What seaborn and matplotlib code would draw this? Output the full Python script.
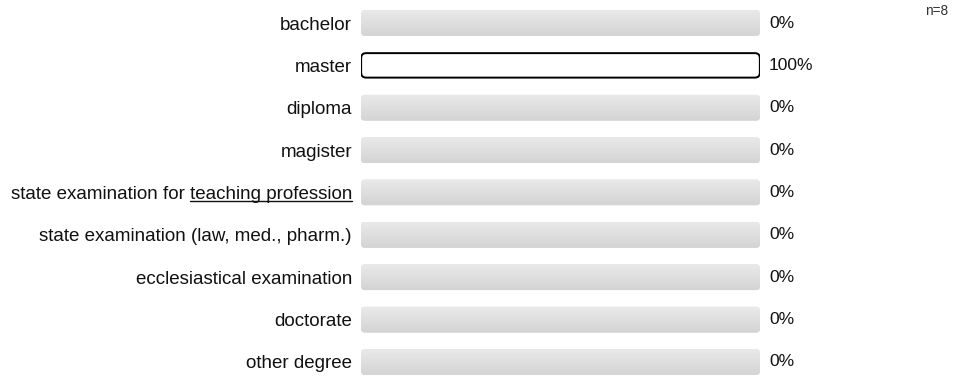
import matplotlib
matplotlib.use("Agg")
import matplotlib.pyplot as plt
import seaborn as sns
import numpy as np
import pandas as pd
from matplotlib.patches import FancyBboxPatch
from matplotlib.lines import Line2D

categories = [
    "bachelor",
    "master",
    "diploma",
    "magister",
    "state examination for teaching profession",
    "state examination (law, med., pharm.)",
    "ecclesiastical examination",
    "doctorate",
    "other degree",
]
underlined_part = "teaching profession"
values = [0, 100, 0, 0, 0, 0, 0, 0, 0]
track = [100] * len(categories)
n_total = 8

sns.set_theme(style="white")
plt.rcParams["font.family"] = ["Liberation Sans", "DejaVu Sans"]

LABEL_FS = 13.5
VALUE_FS = 12.5

W, H = 980, 381
fig = plt.figure(figsize=(W / 100, H / 100), dpi=100)
ax_left, ax_right = 361, 760
ax = fig.add_axes([ax_left / W, 0, (ax_right - ax_left) / W, 1])

df = pd.DataFrame({"cat": categories, "val": values, "track": track})

sns.barplot(data=df, x="track", y="cat", color="#e0e0e0", width=0.61,
            ax=ax, saturation=1)
n_track = len(ax.patches)
sns.barplot(data=df, x="val", y="cat", color="white", width=0.61,
            ax=ax, saturation=1)

px_per_unit_y = (362 - 23) / 8
ylim = (8 + (H - 362) / px_per_unit_y, -23 / px_per_unit_y)
ax.set_xlim(0, 100)
ax.set_ylim(*ylim)

xu = 100 / (ax_right - ax_left)
yu = 1 / px_per_unit_y
aspect = yu / xu
cmap = matplotlib.colors.LinearSegmentedColormap.from_list("g", ["#e9e9e9", "#d4d4d4"])

patches = list(ax.patches)
for i, p in enumerate(patches):
    x, y, w, h = p.get_x(), p.get_y(), p.get_width(), p.get_height()
    p.remove()
    if w <= 0:
        continue
    if i < n_track:
        fb = FancyBboxPatch((x, y), w, h,
                            boxstyle=f"round,pad=0,rounding_size={4 * xu}",
                            mutation_aspect=aspect, facecolor="#e0e0e0",
                            edgecolor="none", zorder=1)
        ax.add_patch(fb)
        grad = np.linspace(0, 1, 50).reshape(-1, 1)
        im = ax.imshow(grad, cmap=cmap, extent=(x, x + w, y + h, y),
                       aspect="auto", zorder=1.5, interpolation="bilinear")
        im.set_clip_path(fb)
    else:
        fb = FancyBboxPatch((x + 0.15 * xu, y + 0.7 * yu), w - 0.3 * xu, h - 1.4 * yu,
                            boxstyle=f"round,pad=0,rounding_size={5 * xu}",
                            mutation_aspect=aspect, facecolor="white",
                            edgecolor="black", linewidth=1.4, zorder=3)
        ax.add_patch(fb)

ax.set_xlim(0, 100)
ax.set_ylim(*ylim)

for i, v in enumerate(values):
    ax.text(100 + 9 * xu, i, f"{v}%", va="center", ha="left",
            fontsize=VALUE_FS, color="#111111")

ax.set_xlabel("")
ax.set_ylabel("")
ax.set_xticks([])
ax.tick_params(axis="y", length=0, pad=6.5, labelsize=LABEL_FS, labelcolor="#111111")
for s in ax.spines.values():
    s.set_visible(False)

fig.text(948 / W, 1 - 11 / H, f"n={n_total}", ha="right", va="center",
         fontsize=9.8, color="#333333")

# underline part of a tick label
fig.canvas.draw()
renderer = fig.canvas.get_renderer()
for lab in ax.get_yticklabels():
    t = lab.get_text()
    if underlined_part in t:
        bb = lab.get_window_extent(renderer)
        tmp = fig.text(0, 0, underlined_part, fontsize=LABEL_FS)
        wpart = tmp.get_window_extent(renderer).width
        tmp.remove()
        x1 = bb.x1
        x0 = x1 - wpart
        ybase = bb.y0 + 2.4
        fig.add_artist(Line2D([x0 / W, x1 / W], [ybase / H, ybase / H],
                              transform=fig.transFigure, color="#111111", lw=1.0))

fig.savefig("out.png", dpi=100)
